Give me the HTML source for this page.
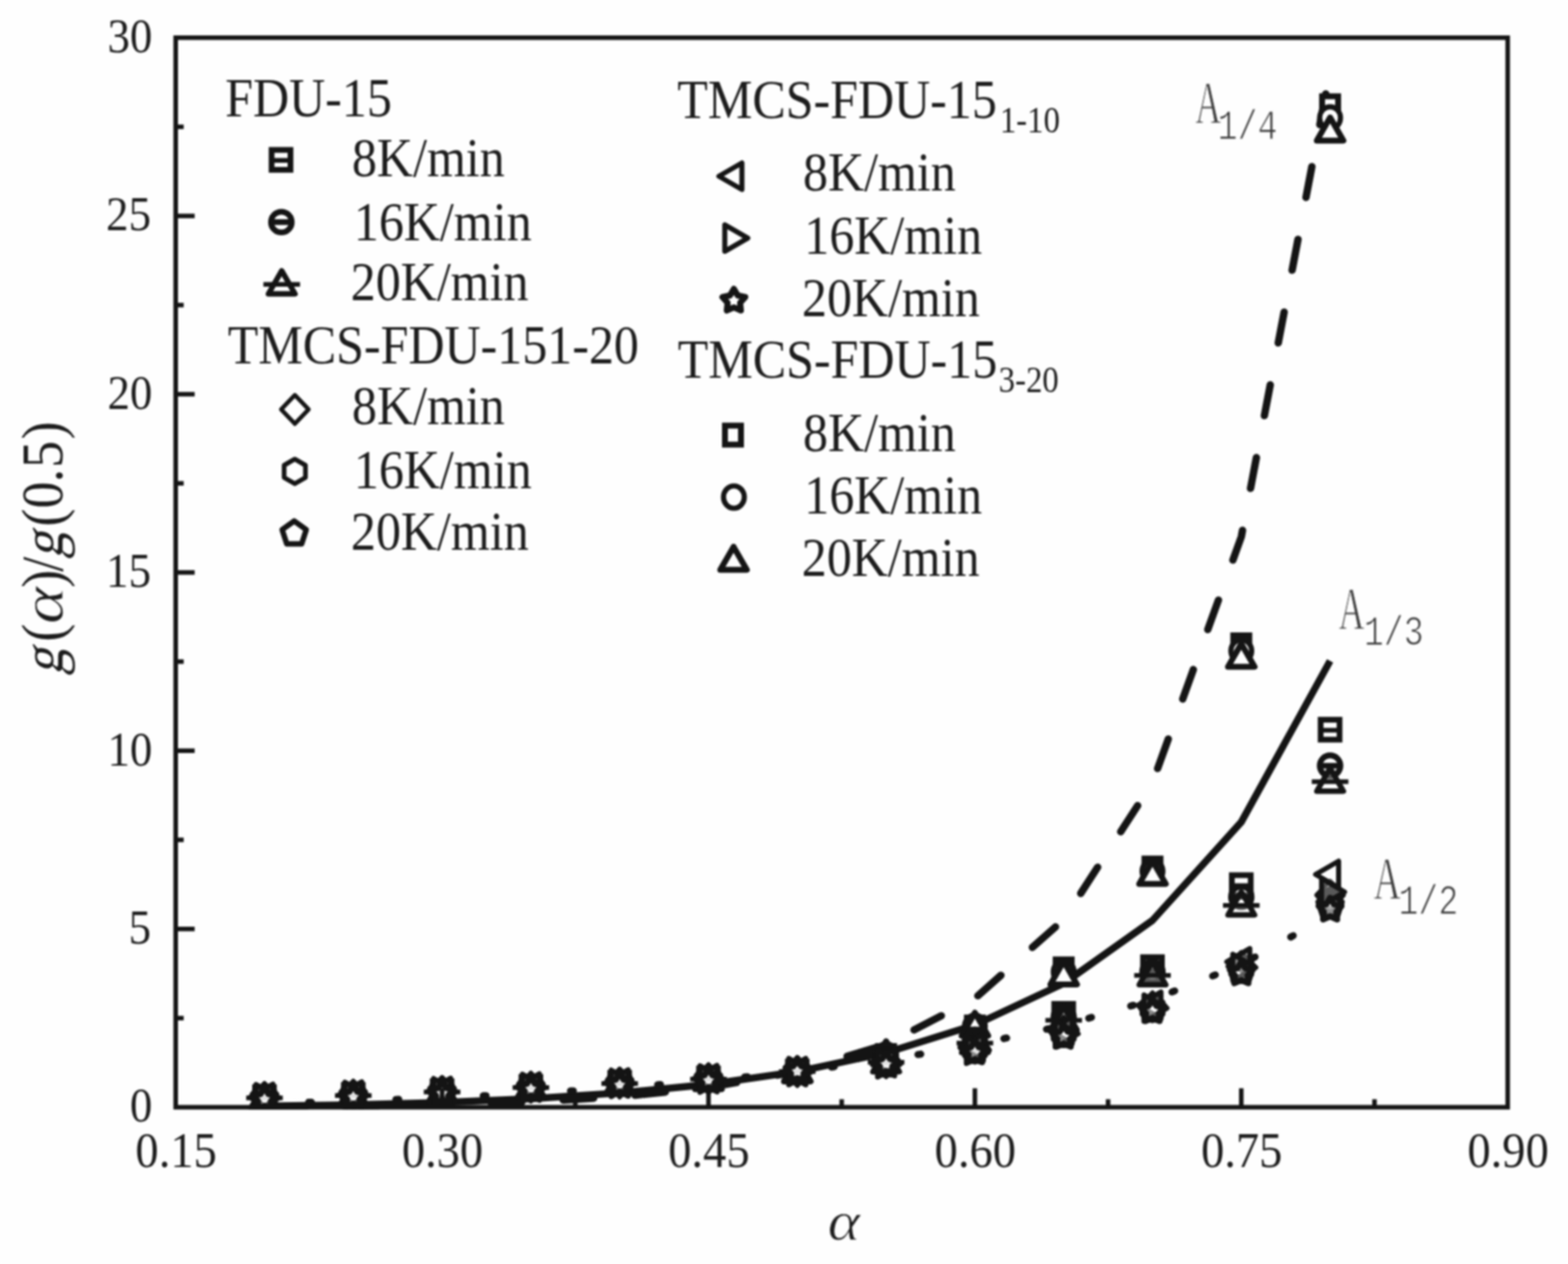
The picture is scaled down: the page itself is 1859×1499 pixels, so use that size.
<!DOCTYPE html>
<html lang="en"><head><meta charset="utf-8"><title>g(α)/g(0.5) versus α</title>
<style>
html,body{margin:0;padding:0;background:#fefefe;}
body{width:1859px;height:1499px;overflow:hidden;}
svg{display:block;filter:blur(1.2px);}
</style></head><body>
<svg xmlns="http://www.w3.org/2000/svg" width="1859" height="1499" viewBox="0 0 1859 1499">
<defs><clipPath id="plot"><rect x="208.3" y="44.7" width="1579.2" height="1271.1"/></clipPath></defs>
<rect width="1859" height="1499" fill="#fefefe"/>
<g clip-path="url(#plot)">
<g fill="none" stroke="#141414" stroke-linejoin="round">
<path d="M313.58,1311.69 L418.86,1310.08 L524.14,1307.34 L629.42,1302.95 L734.70,1296.18 L839.98,1285.97 L945.26,1270.82 L1050.54,1248.46 L1155.82,1215.43 L1261.10,1166.21 L1366.38,1091.53 L1471.66,974.86 L1576.94,783.83" stroke-width="8.4"/>
<path d="M1571.77,111.30 L1564.80,147.89 M1555.33,197.56 L1548.36,234.15 M1538.89,283.83 L1531.92,320.42 M1522.45,370.09 L1515.48,406.68 M1506.01,456.36 L1499.04,492.95 M1489.57,542.62 L1482.60,579.21 M1473.13,628.89 L1471.66,636.62 L1461.71,664.18 M1444.58,711.63 L1431.96,746.58 M1414.83,794.03 L1402.22,828.98 M1385.09,876.43 L1372.47,911.38 M1348.79,955.38 L1328.68,986.38 M1301.39,1028.48 L1281.28,1059.49 M1251.39,1099.23 L1223.96,1123.56 M1186.71,1156.59 L1159.28,1180.92 M1116.01,1204.65 L1083.68,1221.43 M1039.00,1242.16 L1004.30,1252.77 M957.18,1267.18 L945.26,1270.82 L921.84,1275.02 M873.42,1283.70 L839.98,1289.70 L837.74,1289.94 M788.83,1295.01 L752.82,1298.75 M703.81,1302.44 L667.67,1304.55 M618.58,1307.14 L582.40,1308.29 M533.27,1309.85 L524.14,1310.14 L497.08,1310.58 M447.94,1311.37 L418.86,1311.85 L411.74,1311.90 M362.59,1312.27 L326.39,1312.55" stroke-width="8.8" stroke-linecap="round"/>
<path d="M1576.94,1085.15 L1471.66,1143.98 L1366.38,1185.54 L1261.10,1216.11 L1155.82,1239.22 L1050.54,1256.99 L945.26,1270.82 L839.98,1281.65 L734.70,1290.14 L629.42,1296.77 L524.14,1301.90 L418.86,1305.82 L313.58,1308.72" stroke-width="8.4" stroke-dasharray="3.4 48.4" stroke-dashoffset="1.7" stroke-linecap="round"/>
</g>
<g fill="#fefefe" stroke="#141414" stroke-width="5.0" stroke-linejoin="miter">
<g fill-opacity="1">
<rect x="304.08" y="1290.18" width="19" height="22.5" stroke-width="7"/>
<rect x="409.36" y="1287.47" width="19" height="22.5" stroke-width="7"/>
<rect x="514.64" y="1283.08" width="19" height="22.5" stroke-width="7"/>
<rect x="619.92" y="1277.96" width="19" height="22.5" stroke-width="7"/>
<rect x="725.20" y="1273.10" width="19" height="22.5" stroke-width="7"/>
<rect x="830.48" y="1267.94" width="19" height="22.5" stroke-width="7"/>
<rect x="935.76" y="1259.57" width="19" height="22.5" stroke-width="7"/>
<rect x="1041.04" y="1240.54" width="19" height="22.5" stroke-width="7"/>
<rect x="1146.32" y="1206.72" width="19" height="22.5" stroke-width="7"/>
<rect x="1251.60" y="1137.80" width="19" height="22.5" stroke-width="7"/>
<rect x="1356.88" y="1018.15" width="19" height="22.5" stroke-width="7"/>
<rect x="1462.16" y="753.48" width="19" height="22.5" stroke-width="7"/>
<rect x="1567.44" y="114.20" width="19" height="22.5" stroke-width="7"/>
</g>
<g fill-opacity="1">
<ellipse cx="313.58" cy="1301.85" rx="12.35" ry="13.2" stroke-width="6.1"/>
<ellipse cx="418.86" cy="1299.15" rx="12.35" ry="13.2" stroke-width="6.1"/>
<ellipse cx="524.14" cy="1294.75" rx="12.35" ry="13.2" stroke-width="6.1"/>
<ellipse cx="629.42" cy="1289.63" rx="12.35" ry="13.2" stroke-width="6.1"/>
<ellipse cx="734.70" cy="1284.77" rx="12.35" ry="13.2" stroke-width="6.1"/>
<ellipse cx="839.98" cy="1279.61" rx="12.35" ry="13.2" stroke-width="6.1"/>
<ellipse cx="945.26" cy="1270.82" rx="12.35" ry="13.2" stroke-width="6.1"/>
<ellipse cx="1050.54" cy="1250.95" rx="12.35" ry="13.2" stroke-width="6.1"/>
<ellipse cx="1155.82" cy="1217.12" rx="12.35" ry="13.2" stroke-width="6.1"/>
<ellipse cx="1261.10" cy="1152.44" rx="12.35" ry="13.2" stroke-width="6.1"/>
<ellipse cx="1366.38" cy="1033.21" rx="12.35" ry="13.2" stroke-width="6.1"/>
<ellipse cx="1471.66" cy="771.92" rx="12.35" ry="13.2" stroke-width="6.1"/>
<ellipse cx="1576.94" cy="139.83" rx="12.35" ry="13.2" stroke-width="6.1"/>
</g>
<g fill-opacity="1">
<path d="M313.58,1286.58 L329.34,1313.88 L297.82,1313.88Z" stroke-width="7" stroke-linejoin="round"/>
<path d="M418.86,1283.87 L434.62,1311.17 L403.10,1311.17Z" stroke-width="7" stroke-linejoin="round"/>
<path d="M524.14,1279.47 L539.90,1306.77 L508.38,1306.77Z" stroke-width="7" stroke-linejoin="round"/>
<path d="M629.42,1274.36 L645.18,1301.66 L613.66,1301.66Z" stroke-width="7" stroke-linejoin="round"/>
<path d="M734.70,1269.50 L750.46,1296.80 L718.94,1296.80Z" stroke-width="7" stroke-linejoin="round"/>
<path d="M839.98,1264.34 L855.74,1291.64 L824.22,1291.64Z" stroke-width="7" stroke-linejoin="round"/>
<path d="M945.26,1255.12 L961.02,1282.42 L929.50,1282.42Z" stroke-width="7" stroke-linejoin="round"/>
<path d="M1050.54,1234.83 L1066.30,1262.13 L1034.78,1262.13Z" stroke-width="7" stroke-linejoin="round"/>
<path d="M1155.82,1201.00 L1171.58,1228.30 L1140.06,1228.30Z" stroke-width="7" stroke-linejoin="round"/>
<path d="M1261.10,1140.12 L1276.86,1167.42 L1245.34,1167.42Z" stroke-width="7" stroke-linejoin="round"/>
<path d="M1366.38,1020.89 L1382.14,1048.19 L1350.62,1048.19Z" stroke-width="7" stroke-linejoin="round"/>
<path d="M1471.66,763.40 L1487.42,790.70 L1455.90,790.70Z" stroke-width="7" stroke-linejoin="round"/>
<path d="M1576.94,139.35 L1592.70,166.65 L1561.18,166.65Z" stroke-width="7" stroke-linejoin="round"/>
</g>
<g fill-opacity="0.3">
<rect x="302.38" y="1289.42" width="22.4" height="23.6" stroke-width="6.8"/><path d="M302.38,1301.82H324.78" stroke-width="5.6" fill="none"/>
<rect x="407.66" y="1286.71" width="22.4" height="23.6" stroke-width="6.8"/><path d="M407.66,1299.11H430.06" stroke-width="5.6" fill="none"/>
<rect x="512.94" y="1282.32" width="22.4" height="23.6" stroke-width="6.8"/><path d="M512.94,1294.72H535.34" stroke-width="5.6" fill="none"/>
<rect x="618.22" y="1277.20" width="22.4" height="23.6" stroke-width="6.8"/><path d="M618.22,1289.60H640.62" stroke-width="5.6" fill="none"/>
<rect x="723.50" y="1272.34" width="22.4" height="23.6" stroke-width="6.8"/><path d="M723.50,1284.74H745.90" stroke-width="5.6" fill="none"/>
<rect x="828.78" y="1267.18" width="22.4" height="23.6" stroke-width="6.8"/><path d="M828.78,1279.58H851.18" stroke-width="5.6" fill="none"/>
<rect x="934.06" y="1259.02" width="22.4" height="23.6" stroke-width="6.8"/><path d="M934.06,1271.42H956.46" stroke-width="5.6" fill="none"/>
<rect x="1039.34" y="1246.34" width="22.4" height="23.6" stroke-width="6.8"/><path d="M1039.34,1258.74H1061.74" stroke-width="5.6" fill="none"/>
<rect x="1144.62" y="1220.97" width="22.4" height="23.6" stroke-width="6.8"/><path d="M1144.62,1233.37H1167.02" stroke-width="5.6" fill="none"/>
<rect x="1249.90" y="1190.53" width="22.4" height="23.6" stroke-width="6.8"/><path d="M1249.90,1202.93H1272.30" stroke-width="5.6" fill="none"/>
<rect x="1355.18" y="1135.14" width="22.4" height="23.6" stroke-width="6.8"/><path d="M1355.18,1147.54H1377.58" stroke-width="5.6" fill="none"/>
<rect x="1460.46" y="1037.90" width="22.4" height="23.6" stroke-width="6.8"/><path d="M1460.46,1050.30H1482.86" stroke-width="5.6" fill="none"/>
<rect x="1565.74" y="853.55" width="22.4" height="23.6" stroke-width="6.8"/><path d="M1565.74,865.95H1588.14" stroke-width="5.6" fill="none"/>
</g>
<g fill-opacity="0.3">
<circle cx="313.58" cy="1301.64" r="12.3" stroke-width="6.8"/><path d="M301.28,1301.64H325.88" stroke-width="6.8" fill="none"/>
<circle cx="418.86" cy="1298.94" r="12.3" stroke-width="6.8"/><path d="M406.56,1298.94H431.16" stroke-width="6.8" fill="none"/>
<circle cx="524.14" cy="1294.54" r="12.3" stroke-width="6.8"/><path d="M511.84,1294.54H536.44" stroke-width="6.8" fill="none"/>
<circle cx="629.42" cy="1289.42" r="12.3" stroke-width="6.8"/><path d="M617.12,1289.42H641.72" stroke-width="6.8" fill="none"/>
<circle cx="734.70" cy="1284.56" r="12.3" stroke-width="6.8"/><path d="M722.40,1284.56H747.00" stroke-width="6.8" fill="none"/>
<circle cx="839.98" cy="1279.40" r="12.3" stroke-width="6.8"/><path d="M827.68,1279.40H852.28" stroke-width="6.8" fill="none"/>
<circle cx="945.26" cy="1270.82" r="12.3" stroke-width="6.8"/><path d="M932.96,1270.82H957.56" stroke-width="6.8" fill="none"/>
<circle cx="1050.54" cy="1258.98" r="12.3" stroke-width="6.8"/><path d="M1038.24,1258.98H1062.84" stroke-width="6.8" fill="none"/>
<circle cx="1155.82" cy="1234.88" r="12.3" stroke-width="6.8"/><path d="M1143.52,1234.88H1168.12" stroke-width="6.8" fill="none"/>
<circle cx="1261.10" cy="1206.55" r="12.3" stroke-width="6.8"/><path d="M1248.80,1206.55H1273.40" stroke-width="6.8" fill="none"/>
<circle cx="1366.38" cy="1152.44" r="12.3" stroke-width="6.8"/><path d="M1354.08,1152.44H1378.68" stroke-width="6.8" fill="none"/>
<circle cx="1471.66" cy="1063.65" r="12.3" stroke-width="6.8"/><path d="M1459.36,1063.65H1483.96" stroke-width="6.8" fill="none"/>
<circle cx="1576.94" cy="908.06" r="12.3" stroke-width="6.8"/><path d="M1564.64,908.06H1589.24" stroke-width="6.8" fill="none"/>
</g>
<g fill-opacity="0.3">
<path d="M313.58,1285.96 L329.34,1313.26 L297.82,1313.26Z" stroke-width="6.5" stroke-linejoin="round"/><path d="M291.88,1302.06H335.28" stroke-width="5.5" fill="none"/>
<path d="M418.86,1283.26 L434.62,1310.56 L403.10,1310.56Z" stroke-width="6.5" stroke-linejoin="round"/><path d="M397.16,1299.36H440.56" stroke-width="5.5" fill="none"/>
<path d="M524.14,1278.86 L539.90,1306.16 L508.38,1306.16Z" stroke-width="6.5" stroke-linejoin="round"/><path d="M502.44,1294.96H545.84" stroke-width="5.5" fill="none"/>
<path d="M629.42,1273.75 L645.18,1301.05 L613.66,1301.05Z" stroke-width="6.5" stroke-linejoin="round"/><path d="M607.72,1289.85H651.12" stroke-width="5.5" fill="none"/>
<path d="M734.70,1268.88 L750.46,1296.18 L718.94,1296.18Z" stroke-width="6.5" stroke-linejoin="round"/><path d="M713.00,1284.98H756.40" stroke-width="5.5" fill="none"/>
<path d="M839.98,1263.73 L855.74,1291.03 L824.22,1291.03Z" stroke-width="6.5" stroke-linejoin="round"/><path d="M818.28,1279.83H861.68" stroke-width="5.5" fill="none"/>
<path d="M945.26,1254.72 L961.02,1282.02 L929.50,1282.02Z" stroke-width="6.5" stroke-linejoin="round"/><path d="M923.56,1270.82H966.96" stroke-width="5.5" fill="none"/>
<path d="M1050.54,1243.73 L1066.30,1271.03 L1034.78,1271.03Z" stroke-width="6.5" stroke-linejoin="round"/><path d="M1028.84,1259.83H1072.24" stroke-width="5.5" fill="none"/>
<path d="M1155.82,1220.90 L1171.58,1248.20 L1140.06,1248.20Z" stroke-width="6.5" stroke-linejoin="round"/><path d="M1134.12,1237.00H1177.52" stroke-width="5.5" fill="none"/>
<path d="M1261.10,1193.84 L1276.86,1221.14 L1245.34,1221.14Z" stroke-width="6.5" stroke-linejoin="round"/><path d="M1239.40,1209.94H1282.80" stroke-width="5.5" fill="none"/>
<path d="M1366.38,1140.56 L1382.14,1167.86 L1350.62,1167.86Z" stroke-width="6.5" stroke-linejoin="round"/><path d="M1344.68,1156.66H1388.08" stroke-width="5.5" fill="none"/>
<path d="M1471.66,1057.70 L1487.42,1085.00 L1455.90,1085.00Z" stroke-width="6.5" stroke-linejoin="round"/><path d="M1449.96,1073.80H1493.36" stroke-width="5.5" fill="none"/>
<path d="M1576.94,910.98 L1592.70,938.28 L1561.18,938.28Z" stroke-width="6.5" stroke-linejoin="round"/><path d="M1555.24,927.08H1598.64" stroke-width="5.5" fill="none"/>
</g>
<g fill-opacity="0.3">
<path d="M313.58,1284.43 L329.88,1301.43 L313.58,1318.43 L297.28,1301.43Z" stroke-width="5" stroke-linejoin="round"/>
<path d="M418.86,1281.72 L435.16,1298.72 L418.86,1315.72 L402.56,1298.72Z" stroke-width="5" stroke-linejoin="round"/>
<path d="M524.14,1277.33 L540.44,1294.33 L524.14,1311.33 L507.84,1294.33Z" stroke-width="5" stroke-linejoin="round"/>
<path d="M629.42,1272.21 L645.72,1289.21 L629.42,1306.21 L613.12,1289.21Z" stroke-width="5" stroke-linejoin="round"/>
<path d="M734.70,1267.35 L751.00,1284.35 L734.70,1301.35 L718.40,1284.35Z" stroke-width="5" stroke-linejoin="round"/>
<path d="M839.98,1262.19 L856.28,1279.19 L839.98,1296.19 L823.68,1279.19Z" stroke-width="5" stroke-linejoin="round"/>
<path d="M945.26,1253.82 L961.56,1270.82 L945.26,1287.82 L928.96,1270.82Z" stroke-width="5" stroke-linejoin="round"/>
<path d="M1050.54,1243.25 L1066.84,1260.25 L1050.54,1277.25 L1034.24,1260.25Z" stroke-width="5" stroke-linejoin="round"/>
<path d="M1155.82,1225.92 L1172.12,1242.92 L1155.82,1259.92 L1139.52,1242.92Z" stroke-width="5" stroke-linejoin="round"/>
<path d="M1261.10,1206.47 L1277.40,1223.47 L1261.10,1240.47 L1244.80,1223.47Z" stroke-width="5" stroke-linejoin="round"/>
<path d="M1366.38,1176.87 L1382.68,1193.87 L1366.38,1210.87 L1350.08,1193.87Z" stroke-width="5" stroke-linejoin="round"/>
<path d="M1471.66,1129.09 L1487.96,1146.09 L1471.66,1163.09 L1455.36,1146.09Z" stroke-width="5" stroke-linejoin="round"/>
<path d="M1576.94,1044.53 L1593.24,1061.53 L1576.94,1078.53 L1560.64,1061.53Z" stroke-width="5" stroke-linejoin="round"/>
</g>
<g fill-opacity="0.3">
<path d="M313.58,1287.25 L326.22,1294.55 L326.22,1309.15 L313.58,1316.45 L300.94,1309.15 L300.94,1294.55Z" stroke-width="5.5" stroke-linejoin="round"/>
<path d="M418.86,1284.55 L431.50,1291.85 L431.50,1306.45 L418.86,1313.75 L406.22,1306.45 L406.22,1291.85Z" stroke-width="5.5" stroke-linejoin="round"/>
<path d="M524.14,1280.15 L536.78,1287.45 L536.78,1302.05 L524.14,1309.35 L511.50,1302.05 L511.50,1287.45Z" stroke-width="5.5" stroke-linejoin="round"/>
<path d="M629.42,1275.03 L642.06,1282.33 L642.06,1296.93 L629.42,1304.23 L616.78,1296.93 L616.78,1282.33Z" stroke-width="5.5" stroke-linejoin="round"/>
<path d="M734.70,1270.17 L747.34,1277.47 L747.34,1292.07 L734.70,1299.37 L722.06,1292.07 L722.06,1277.47Z" stroke-width="5.5" stroke-linejoin="round"/>
<path d="M839.98,1265.01 L852.62,1272.31 L852.62,1286.91 L839.98,1294.21 L827.34,1286.91 L827.34,1272.31Z" stroke-width="5.5" stroke-linejoin="round"/>
<path d="M945.26,1256.22 L957.90,1263.52 L957.90,1278.12 L945.26,1285.42 L932.62,1278.12 L932.62,1263.52Z" stroke-width="5.5" stroke-linejoin="round"/>
<path d="M1050.54,1246.92 L1063.18,1254.22 L1063.18,1268.82 L1050.54,1276.12 L1037.90,1268.82 L1037.90,1254.22Z" stroke-width="5.5" stroke-linejoin="round"/>
<path d="M1155.82,1230.01 L1168.46,1237.31 L1168.46,1251.91 L1155.82,1259.21 L1143.18,1251.91 L1143.18,1237.31Z" stroke-width="5.5" stroke-linejoin="round"/>
<path d="M1261.10,1210.56 L1273.74,1217.86 L1273.74,1232.46 L1261.10,1239.76 L1248.46,1232.46 L1248.46,1217.86Z" stroke-width="5.5" stroke-linejoin="round"/>
<path d="M1366.38,1180.96 L1379.02,1188.26 L1379.02,1202.86 L1366.38,1210.16 L1353.74,1202.86 L1353.74,1188.26Z" stroke-width="5.5" stroke-linejoin="round"/>
<path d="M1471.66,1133.61 L1484.30,1140.91 L1484.30,1155.51 L1471.66,1162.81 L1459.02,1155.51 L1459.02,1140.91Z" stroke-width="5.5" stroke-linejoin="round"/>
<path d="M1576.94,1053.28 L1589.58,1060.58 L1589.58,1075.18 L1576.94,1082.48 L1564.30,1075.18 L1564.30,1060.58Z" stroke-width="5.5" stroke-linejoin="round"/>
</g>
<g fill-opacity="0.3">
<path d="M313.58,1287.28 L327.85,1297.64 L322.40,1314.41 L304.76,1314.41 L299.31,1297.64Z" stroke-width="6.5" stroke-linejoin="round"/>
<path d="M418.86,1284.57 L433.13,1294.94 L427.68,1311.71 L410.04,1311.71 L404.59,1294.94Z" stroke-width="6.5" stroke-linejoin="round"/>
<path d="M524.14,1280.17 L538.41,1290.54 L532.96,1307.31 L515.32,1307.31 L509.87,1290.54Z" stroke-width="6.5" stroke-linejoin="round"/>
<path d="M629.42,1275.06 L643.69,1285.42 L638.24,1302.19 L620.60,1302.19 L615.15,1285.42Z" stroke-width="6.5" stroke-linejoin="round"/>
<path d="M734.70,1270.20 L748.97,1280.56 L743.52,1297.33 L725.88,1297.33 L720.43,1280.56Z" stroke-width="6.5" stroke-linejoin="round"/>
<path d="M839.98,1265.04 L854.25,1275.40 L848.80,1292.17 L831.16,1292.17 L825.71,1275.40Z" stroke-width="6.5" stroke-linejoin="round"/>
<path d="M945.26,1255.82 L959.53,1266.18 L954.08,1282.96 L936.44,1282.96 L930.99,1266.18Z" stroke-width="6.5" stroke-linejoin="round"/>
<path d="M1050.54,1247.36 L1064.81,1257.73 L1059.36,1274.50 L1041.72,1274.50 L1036.27,1257.73Z" stroke-width="6.5" stroke-linejoin="round"/>
<path d="M1155.82,1231.30 L1170.09,1241.66 L1164.64,1258.43 L1147.00,1258.43 L1141.55,1241.66Z" stroke-width="6.5" stroke-linejoin="round"/>
<path d="M1261.10,1212.27 L1275.37,1222.64 L1269.92,1239.41 L1252.28,1239.41 L1246.83,1222.64Z" stroke-width="6.5" stroke-linejoin="round"/>
<path d="M1366.38,1182.25 L1380.65,1192.62 L1375.20,1209.39 L1357.56,1209.39 L1352.11,1192.62Z" stroke-width="6.5" stroke-linejoin="round"/>
<path d="M1471.66,1136.59 L1485.93,1146.96 L1480.48,1163.73 L1462.84,1163.73 L1457.39,1146.96Z" stroke-width="6.5" stroke-linejoin="round"/>
<path d="M1576.94,1059.22 L1591.21,1069.58 L1585.76,1086.35 L1568.12,1086.35 L1562.67,1069.58Z" stroke-width="6.5" stroke-linejoin="round"/>
</g>
<g fill-opacity="0.3">
<path d="M296.38,1301.43 L323.68,1285.67 L323.68,1317.19Z" stroke-width="6" stroke-linejoin="round"/>
<path d="M401.66,1298.72 L428.96,1282.96 L428.96,1314.49Z" stroke-width="6" stroke-linejoin="round"/>
<path d="M506.94,1294.33 L534.24,1278.57 L534.24,1310.09Z" stroke-width="6" stroke-linejoin="round"/>
<path d="M612.22,1289.21 L639.52,1273.45 L639.52,1304.97Z" stroke-width="6" stroke-linejoin="round"/>
<path d="M717.50,1284.35 L744.80,1268.59 L744.80,1300.11Z" stroke-width="6" stroke-linejoin="round"/>
<path d="M822.78,1279.19 L850.08,1263.43 L850.08,1294.95Z" stroke-width="6" stroke-linejoin="round"/>
<path d="M928.06,1270.82 L955.36,1255.06 L955.36,1286.58Z" stroke-width="6" stroke-linejoin="round"/>
<path d="M1033.34,1260.25 L1060.64,1244.49 L1060.64,1276.01Z" stroke-width="6" stroke-linejoin="round"/>
<path d="M1138.62,1242.07 L1165.92,1226.31 L1165.92,1257.83Z" stroke-width="6" stroke-linejoin="round"/>
<path d="M1243.90,1221.78 L1271.20,1206.01 L1271.20,1237.54Z" stroke-width="6" stroke-linejoin="round"/>
<path d="M1349.18,1192.18 L1376.48,1176.42 L1376.48,1207.94Z" stroke-width="6" stroke-linejoin="round"/>
<path d="M1454.46,1140.60 L1481.76,1124.84 L1481.76,1156.36Z" stroke-width="6" stroke-linejoin="round"/>
<path d="M1559.74,1037.01 L1587.04,1021.25 L1587.04,1052.77Z" stroke-width="6" stroke-linejoin="round"/>
</g>
<g fill-opacity="0.3">
<path d="M330.78,1301.85 L303.48,1286.09 L303.48,1317.62Z" stroke-width="6" stroke-linejoin="round"/>
<path d="M436.06,1299.15 L408.76,1283.39 L408.76,1314.91Z" stroke-width="6" stroke-linejoin="round"/>
<path d="M541.34,1294.75 L514.04,1278.99 L514.04,1310.51Z" stroke-width="6" stroke-linejoin="round"/>
<path d="M646.62,1289.63 L619.32,1273.87 L619.32,1305.40Z" stroke-width="6" stroke-linejoin="round"/>
<path d="M751.90,1284.77 L724.60,1269.01 L724.60,1300.53Z" stroke-width="6" stroke-linejoin="round"/>
<path d="M857.18,1279.61 L829.88,1263.85 L829.88,1295.38Z" stroke-width="6" stroke-linejoin="round"/>
<path d="M962.46,1270.82 L935.16,1255.06 L935.16,1286.58Z" stroke-width="6" stroke-linejoin="round"/>
<path d="M1067.74,1261.52 L1040.44,1245.76 L1040.44,1277.28Z" stroke-width="6" stroke-linejoin="round"/>
<path d="M1173.02,1245.45 L1145.72,1229.69 L1145.72,1261.21Z" stroke-width="6" stroke-linejoin="round"/>
<path d="M1278.30,1226.00 L1251.00,1210.24 L1251.00,1241.76Z" stroke-width="6" stroke-linejoin="round"/>
<path d="M1383.58,1195.56 L1356.28,1179.80 L1356.28,1211.32Z" stroke-width="6" stroke-linejoin="round"/>
<path d="M1488.86,1147.36 L1461.56,1131.60 L1461.56,1163.12Z" stroke-width="6" stroke-linejoin="round"/>
<path d="M1594.14,1057.73 L1566.84,1041.97 L1566.84,1073.49Z" stroke-width="6" stroke-linejoin="round"/>
</g>
<g fill-opacity="0.3">
<path d="M313.58,1289.56 L318.16,1297.45 L327.09,1299.37 L321.00,1306.17 L321.93,1315.24 L313.58,1311.56 L305.23,1315.24 L306.16,1306.17 L300.07,1299.37 L309.00,1297.45Z" stroke-width="7.2" stroke-linejoin="round"/>
<path d="M418.86,1286.85 L423.44,1294.74 L432.37,1296.66 L426.28,1303.46 L427.21,1312.54 L418.86,1308.85 L410.51,1312.54 L411.44,1303.46 L405.35,1296.66 L414.28,1294.74Z" stroke-width="7.2" stroke-linejoin="round"/>
<path d="M524.14,1282.45 L528.72,1290.34 L537.65,1292.27 L531.56,1299.06 L532.49,1308.14 L524.14,1304.45 L515.79,1308.14 L516.72,1299.06 L510.63,1292.27 L519.56,1290.34Z" stroke-width="7.2" stroke-linejoin="round"/>
<path d="M629.42,1277.34 L634.00,1285.23 L642.93,1287.15 L636.84,1293.95 L637.77,1303.03 L629.42,1299.34 L621.07,1303.03 L622.00,1293.95 L615.91,1287.15 L624.84,1285.23Z" stroke-width="7.2" stroke-linejoin="round"/>
<path d="M734.70,1272.47 L739.28,1280.36 L748.21,1282.29 L742.12,1289.09 L743.05,1298.16 L734.70,1294.47 L726.35,1298.16 L727.28,1289.09 L721.19,1282.29 L730.12,1280.36Z" stroke-width="7.2" stroke-linejoin="round"/>
<path d="M839.98,1267.32 L844.56,1275.21 L853.49,1277.13 L847.40,1283.93 L848.33,1293.00 L839.98,1289.32 L831.63,1293.00 L832.56,1283.93 L826.47,1277.13 L835.40,1275.21Z" stroke-width="7.2" stroke-linejoin="round"/>
<path d="M945.26,1256.62 L949.84,1264.51 L958.77,1266.43 L952.68,1273.23 L953.61,1282.31 L945.26,1278.62 L936.91,1282.31 L937.84,1273.23 L931.75,1266.43 L940.68,1264.51Z" stroke-width="7.2" stroke-linejoin="round"/>
<path d="M1050.54,1248.16 L1055.12,1256.05 L1064.05,1257.98 L1057.96,1264.77 L1058.89,1273.85 L1050.54,1270.16 L1042.19,1273.85 L1043.12,1264.77 L1037.03,1257.98 L1045.96,1256.05Z" stroke-width="7.2" stroke-linejoin="round"/>
<path d="M1155.82,1234.08 L1160.40,1241.97 L1169.33,1243.90 L1163.24,1250.70 L1164.17,1259.77 L1155.82,1256.08 L1147.47,1259.77 L1148.40,1250.70 L1142.31,1243.90 L1151.24,1241.97Z" stroke-width="7.2" stroke-linejoin="round"/>
<path d="M1261.10,1215.61 L1265.68,1223.50 L1274.61,1225.42 L1268.52,1232.22 L1269.45,1241.30 L1261.10,1237.61 L1252.75,1241.30 L1253.68,1232.22 L1247.59,1225.42 L1256.52,1223.50Z" stroke-width="7.2" stroke-linejoin="round"/>
<path d="M1366.38,1185.17 L1370.96,1193.06 L1379.89,1194.98 L1373.80,1201.78 L1374.73,1210.85 L1366.38,1207.17 L1358.03,1210.85 L1358.96,1201.78 L1352.87,1194.98 L1361.80,1193.06Z" stroke-width="7.2" stroke-linejoin="round"/>
<path d="M1471.66,1140.35 L1476.24,1148.24 L1485.17,1150.16 L1479.08,1156.96 L1480.01,1166.04 L1471.66,1162.35 L1463.31,1166.04 L1464.24,1156.96 L1458.15,1150.16 L1467.08,1148.24Z" stroke-width="7.2" stroke-linejoin="round"/>
<path d="M1576.94,1064.67 L1581.52,1072.56 L1590.45,1074.48 L1584.36,1081.28 L1585.29,1090.36 L1576.94,1086.67 L1568.59,1090.36 L1569.52,1081.28 L1563.43,1074.48 L1572.36,1072.56Z" stroke-width="7.2" stroke-linejoin="round"/>
</g>
</g>
</g>
<g fill="none" stroke="#141414" stroke-width="5.4" stroke-linecap="butt">
<rect x="208.3" y="44.7" width="1579.2" height="1268.3999999999999"/>
<path d="M208.3,1101.70h22.5"/>
<path d="M208.3,890.30h22.5"/>
<path d="M208.3,678.90h22.5"/>
<path d="M208.3,467.50h22.5"/>
<path d="M208.3,256.10h22.5"/>
<path d="M208.3,1207.40h9.5"/>
<path d="M208.3,996.00h9.5"/>
<path d="M208.3,784.60h9.5"/>
<path d="M208.3,573.20h9.5"/>
<path d="M208.3,361.80h9.5"/>
<path d="M208.3,150.40h9.5"/>
<path d="M524.14,1313.1v-22.5"/>
<path d="M839.98,1313.1v-22.5"/>
<path d="M1155.82,1313.1v-22.5"/>
<path d="M1471.66,1313.1v-22.5"/>
<path d="M366.22,1313.1v-9.5"/>
<path d="M682.06,1313.1v-9.5"/>
<path d="M997.90,1313.1v-9.5"/>
<path d="M1313.74,1313.1v-9.5"/>
<path d="M1629.58,1313.1v-9.5"/>
</g>
<g fill="none" stroke="#141414" stroke-width="5.0" stroke-linejoin="miter">
<rect x="322.00" y="177.80" width="22.4" height="23.6" stroke-width="6.8"/><path d="M322.00,190.20H344.40" stroke-width="5.6" fill="none"/>
<circle cx="333.60" cy="263.40" r="12.3" stroke-width="6.8"/><path d="M321.30,263.40H345.90" stroke-width="6.8" fill="none"/>
<path d="M334.00,321.20 L349.76,348.50 L318.24,348.50Z" stroke-width="6.5" stroke-linejoin="round"/><path d="M312.30,337.30H355.70" stroke-width="5.5" fill="none"/>
<path d="M349.60,468.60 L365.90,485.60 L349.60,502.60 L333.30,485.60Z" stroke-width="5" stroke-linejoin="round"/>
<path d="M349.50,544.45 L362.14,551.75 L362.14,566.35 L349.50,573.65 L336.86,566.35 L336.86,551.75Z" stroke-width="5.5" stroke-linejoin="round"/>
<path d="M348.80,617.80 L363.07,628.16 L357.62,644.94 L339.98,644.94 L334.53,628.16Z" stroke-width="6.5" stroke-linejoin="round"/>
<path d="M852.30,209.00 L879.60,193.24 L879.60,224.76Z" stroke-width="6" stroke-linejoin="round"/>
<path d="M886.60,282.30 L859.30,266.54 L859.30,298.06Z" stroke-width="6" stroke-linejoin="round"/>
<path d="M870.05,342.50 L874.63,350.39 L883.56,352.31 L877.47,359.11 L878.40,368.19 L870.05,364.50 L861.70,368.19 L862.63,359.11 L856.54,352.31 L865.47,350.39Z" stroke-width="7.2" stroke-linejoin="round"/>
<rect x="859.50" y="504.75" width="19" height="22.5" stroke-width="7"/>
<ellipse cx="870.10" cy="589.50" rx="12.35" ry="13.2" stroke-width="6.1"/>
<path d="M869.70,648.40 L885.46,675.70 L853.94,675.70Z" stroke-width="7" stroke-linejoin="round"/>
</g>
<g font-family="'Liberation Serif', serif" fill="#1c1c1c">
<text transform="translate(180.7,1330.4) scale(0.95,1)" font-size="56" text-anchor="end" >0</text>
<text transform="translate(179.0,1119.0) scale(0.95,1)" font-size="56" text-anchor="end" >5</text>
<text transform="translate(180.7,907.6) scale(0.95,1)" font-size="56" text-anchor="end" >10</text>
<text transform="translate(179.0,696.2) scale(0.95,1)" font-size="56" text-anchor="end" >15</text>
<text transform="translate(180.7,484.8) scale(0.95,1)" font-size="56" text-anchor="end" >20</text>
<text transform="translate(179.0,273.4) scale(0.95,1)" font-size="56" text-anchor="end" >25</text>
<text transform="translate(180.7,62.0) scale(0.95,1)" font-size="56" text-anchor="end" >30</text>
<text transform="translate(208.8,1383.5) scale(0.934,1)" font-size="59" text-anchor="middle" >0.15</text>
<text transform="translate(524.6,1383.5) scale(0.934,1)" font-size="59" text-anchor="middle" >0.30</text>
<text transform="translate(840.5,1383.5) scale(0.934,1)" font-size="59" text-anchor="middle" >0.45</text>
<text transform="translate(1156.3,1383.5) scale(0.934,1)" font-size="59" text-anchor="middle" >0.60</text>
<text transform="translate(1472.2,1383.5) scale(0.934,1)" font-size="59" text-anchor="middle" >0.75</text>
<text transform="translate(1788.0,1383.5) scale(0.934,1)" font-size="59" text-anchor="middle" >0.90</text>
<text transform="translate(267.0,137.5) scale(0.893,1)" font-size="66.4" text-anchor="start" >FDU-15</text>
<text transform="translate(417.2,208.6) scale(0.893,1)" font-size="66.4" text-anchor="start" >8K/min</text>
<text transform="translate(419.5,285.3) scale(0.893,1)" font-size="66.4" text-anchor="start" >16K/min</text>
<text transform="translate(415.8,355.9) scale(0.893,1)" font-size="66.4" text-anchor="start" >20K/min</text>
<text transform="translate(270.0,431.4) scale(0.893,1)" font-size="66.4" text-anchor="start" >TMCS-FDU-151-20</text>
<text transform="translate(417.3,503.3) scale(0.893,1)" font-size="66.4" text-anchor="start" >8K/min</text>
<text transform="translate(419.5,578.6) scale(0.893,1)" font-size="66.4" text-anchor="start" >16K/min</text>
<text transform="translate(416.0,652.0) scale(0.893,1)" font-size="66.4" text-anchor="start" >20K/min</text>
<text transform="translate(803.0,140.0) scale(0.893,1)" font-size="66.4" text-anchor="start" >TMCS-FDU-15<tspan font-size="43.5" dx="4" dy="16.5">1-10</tspan></text>
<text transform="translate(952.0,226.0) scale(0.893,1)" font-size="66.4" text-anchor="start" >8K/min</text>
<text transform="translate(953.5,300.8) scale(0.893,1)" font-size="66.4" text-anchor="start" >16K/min</text>
<text transform="translate(950.8,374.5) scale(0.893,1)" font-size="66.4" text-anchor="start" >20K/min</text>
<text transform="translate(803.5,448.0) scale(0.893,1)" font-size="66.4" text-anchor="start" >TMCS-FDU-15<tspan font-size="43.5" dx="2" dy="17.4">3-20</tspan></text>
<text transform="translate(952.0,535.2) scale(0.893,1)" font-size="66.4" text-anchor="start" >8K/min</text>
<text transform="translate(953.5,609.0) scale(0.893,1)" font-size="66.4" text-anchor="start" >16K/min</text>
<text transform="translate(950.5,683.0) scale(0.893,1)" font-size="66.4" text-anchor="start" >20K/min</text>
<g transform="translate(73.5,800) rotate(-90)" font-size="69">
<text transform="translate(-0.9,0) scale(0.925,1) skewX(-14)">g</text>
<text transform="translate(39.0,0) scale(0.925,1)">(</text>
<text transform="translate(60.0,0) scale(1.2,1)" font-size="70" font-style="italic" stroke="#fefefe" stroke-width="0.9">α</text>
<text transform="translate(103.0,0) scale(0.925,1)">)</text>
<text transform="translate(122.1,0) scale(0.925,1)">/</text>
<text transform="translate(137.2,0) scale(0.925,1) skewX(-14)">g</text>
<text transform="translate(175.4,0) scale(0.925,1)">(</text>
<text transform="translate(197.0,0) scale(0.925,1)">0</text>
<text transform="translate(228.0,0) scale(0.925,1)">.</text>
<text transform="translate(245.3,0) scale(0.925,1)">5</text>
<text transform="translate(279.0,0) scale(0.925,1)">)</text>
</g>
<text transform="translate(1000.5,1469.5) scale(1.14,1)" font-size="64.5" text-anchor="middle" font-style="italic" stroke="#fefefe" stroke-width="0.9">α</text>
</g>
<g fill="#3a3a3a" stroke="#fefefe" stroke-width="1.2">
<text transform="translate(1416.9,145.6) scale(0.6,1)" font-family="'Liberation Serif', serif" font-size="71">A</text>
<text transform="translate(1443.5,165) scale(0.79,1)" font-family="'Liberation Mono', monospace" font-size="50">1/4</text>
<text transform="translate(1586.9,745.6) scale(0.6,1)" font-family="'Liberation Serif', serif" font-size="71">A</text>
<text transform="translate(1616.9,765) scale(0.79,1)" font-family="'Liberation Mono', monospace" font-size="50">1/3</text>
<text transform="translate(1628.5,1065.6) scale(0.63,1)" font-family="'Liberation Serif', serif" font-size="71">A</text>
<text transform="translate(1657.9,1083.9) scale(0.79,1)" font-family="'Liberation Mono', monospace" font-size="50">1/2</text>
</g>
</svg>
</body></html>
